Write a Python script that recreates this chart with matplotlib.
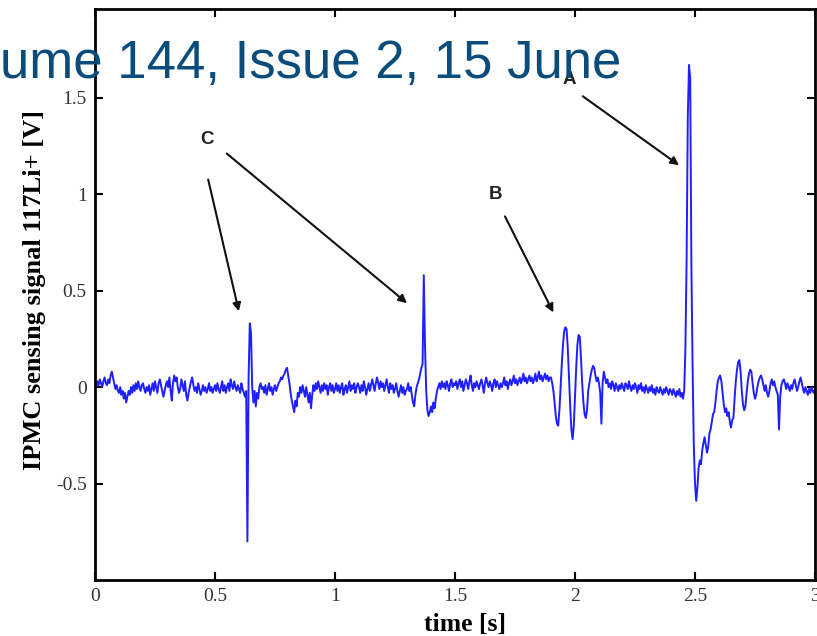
import numpy as np
import matplotlib
matplotlib.use("Agg")
import matplotlib.pyplot as plt

# ---- data (sampled every 0.005 s from 0 to 3 s) ----
t_start, t_end = 0.0, 3.0
signal = [
    # 0.0
    0.02, 0.00, 0.03, 0.01, 0.04, 0.02, 0.00, 0.03, 0.05, 0.02, 0.01, 0.04, 0.02, 0.06, 0.08, 0.05, 0.02, -0.01, 0.01, -0.02,
    # 0.1
    -0.03, 0.00, -0.04, -0.02, -0.06, -0.03, -0.08, -0.05, -0.02, -0.04, 0.00, -0.03, 0.01, -0.02, 0.02, -0.01, 0.03, 0.00, -0.02, 0.01,
    # 0.2
    0.02, -0.01, -0.03, 0.00, -0.02, 0.01, -0.04, -0.01, 0.02, -0.02, 0.03, 0.00, -0.03, 0.02, 0.04, 0.01, -0.02, -0.05, -0.02, 0.01,
    # 0.3
    0.03, 0.00, 0.05, -0.02, -0.07, 0.02, 0.06, 0.03, 0.05, 0.00, -0.03, -0.01, 0.04, 0.01, -0.02, 0.03, -0.04, -0.07, -0.03, 0.00,
    # 0.4
    0.03, 0.05, 0.01, -0.02, 0.00, -0.03, 0.02, -0.01, -0.04, -0.02, 0.01, -0.02, 0.00, -0.03, -0.01, 0.02, -0.02, 0.00, -0.03, -0.01,
    # 0.5
    0.01, -0.02, 0.02, -0.01, -0.03, 0.00, 0.03, -0.02, 0.01, -0.03, 0.00, 0.02, -0.02, 0.04, 0.01, -0.01, 0.03, 0.00, -0.02, 0.01,
    # 0.6  (C1)
    -0.01, -0.03, 0.02, -0.01, -0.03, -0.05, -0.02, -0.80, 0.05, 0.33, 0.28, 0.00, -0.08, -0.02, -0.10, -0.03, -0.06, 0.00, 0.02, -0.01,
    # 0.7
    0.00, -0.03, 0.01, -0.04, -0.01, 0.02, -0.02, 0.00, -0.04, -0.01, 0.01, -0.02, 0.00, 0.02, 0.03, 0.05, 0.04, 0.06, 0.07, 0.09,
    # 0.8
    0.10, 0.06, 0.02, -0.03, -0.07, -0.10, -0.13, -0.07, -0.10, -0.03, -0.05, 0.00, -0.03, 0.01, -0.02, -0.05, 0.00, -0.04, -0.08, -0.03,
    # 0.9
    -0.11, -0.04, 0.01, -0.02, 0.02, -0.01, 0.03, 0.00, -0.03, 0.01, -0.02, 0.02, -0.01, 0.01, -0.04, 0.00, 0.02, -0.02, 0.01, -0.03,
    # 1.0
    -0.01, 0.02, -0.02, 0.01, -0.03, 0.00, 0.02, -0.04, -0.01, 0.01, -0.03, 0.00, 0.03, -0.02, 0.01, -0.01, 0.02, -0.03, 0.00, 0.02,
    # 1.1
    0.00, -0.03, 0.01, -0.02, 0.03, 0.00, -0.04, -0.01, 0.02, -0.02, 0.01, 0.04, 0.01, -0.02, 0.02, 0.05, 0.02, -0.01, 0.03, 0.00,
    # 1.2
    0.02, -0.02, 0.01, 0.04, 0.00, -0.03, 0.02, -0.01, 0.01, -0.03, -0.01, 0.02, -0.02, -0.05, -0.02, 0.01, -0.03, 0.00, -0.04, -0.02,
    # 1.3  (C2)
    -0.01, 0.02, -0.02, 0.00, -0.04, -0.08, -0.10, -0.04, 0.00, 0.02, 0.04, 0.07, 0.10, 0.12, 0.58, 0.22, -0.02, -0.12, -0.15, -0.13,
    # 1.4
    -0.10, -0.13, -0.08, -0.11, -0.06, -0.02, 0.00, 0.02, -0.01, 0.03, 0.00, 0.02, -0.01, 0.03, 0.01, -0.02, 0.02, 0.04, 0.00, 0.02,
    # 1.5
    0.01, 0.03, -0.01, 0.02, 0.04, 0.00, 0.03, -0.02, 0.01, 0.04, 0.02, -0.01, 0.03, 0.06, 0.01, -0.02, 0.02, 0.00, 0.03, 0.01,
    # 1.6
    -0.01, 0.02, 0.04, 0.01, -0.03, 0.02, 0.05, 0.02, 0.00, 0.03, 0.01, -0.02, 0.02, 0.04, 0.00, 0.03, 0.01, -0.01, 0.02, 0.00,
    # 1.7
    0.02, 0.05, 0.01, 0.03, -0.01, 0.02, 0.04, 0.01, 0.03, 0.06, 0.02, 0.04, 0.01, 0.03, 0.05, 0.02, 0.04, 0.07, 0.03, 0.05,
    # 1.8
    0.02, 0.04, 0.06, 0.03, 0.05, 0.02, 0.04, 0.07, 0.03, 0.05, 0.08, 0.04, 0.06, 0.03, 0.05, 0.07, 0.04, 0.06, 0.03, 0.05,
    # 1.9  (B)
    0.05, 0.02, -0.02, -0.08, -0.15, -0.19, -0.20, -0.12, 0.00, 0.12, 0.22, 0.29, 0.31, 0.30, 0.20, 0.05, -0.10, -0.22, -0.27, -0.20,
    # 2.0
    -0.05, 0.10, 0.22, 0.27, 0.26, 0.15, 0.02, -0.08, -0.14, -0.16, -0.12, -0.02, 0.02, 0.06, 0.09, 0.11, 0.10, 0.06, 0.03, 0.05,
    # 2.1
    0.02, -0.03, -0.19, 0.02, 0.08, 0.05, 0.02, 0.04, 0.00, 0.02, -0.01, 0.03, 0.01, -0.02, 0.02, 0.00, -0.02, 0.01, -0.01, 0.02,
    # 2.2
    0.00, -0.02, 0.02, 0.01, -0.01, 0.03, 0.00, -0.02, 0.01, -0.01, 0.02, 0.00, -0.03, 0.01, -0.01, 0.02, -0.02, 0.00, -0.03, 0.01,
    # 2.3
    -0.01, -0.03, 0.00, -0.02, 0.01, -0.03, -0.01, -0.04, 0.00, -0.02, -0.03, 0.00, -0.02, -0.04, -0.01, -0.03, 0.00, -0.02, -0.04, -0.01,
    # 2.4  (A)
    -0.02, -0.04, -0.01, -0.03, -0.05, -0.02, -0.04, -0.01, -0.05, -0.03, -0.06, -0.02, 0.20, 0.66, 1.40, 1.67, 1.60, 0.62, 0.10, -0.30,
    # 2.5
    -0.50, -0.59, -0.52, -0.42, -0.38, -0.40, -0.33, -0.29, -0.26, -0.30, -0.34, -0.31, -0.24, -0.22, -0.18, -0.14, -0.13, -0.08, -0.02, 0.03,
    # 2.6
    0.05, 0.06, 0.03, -0.03, -0.09, -0.13, -0.11, -0.15, -0.13, -0.18, -0.21, -0.17, -0.16, -0.06, 0.03, 0.09, 0.13, 0.14, 0.08, -0.02,
    # 2.7
    -0.09, -0.12, -0.10, -0.03, 0.03, 0.07, 0.09, 0.08, 0.02, -0.03, -0.06, -0.04, 0.00, 0.03, 0.05, 0.06, 0.04, 0.01, -0.02, 0.01,
    # 2.8
    -0.03, -0.05, -0.02, 0.02, 0.04, 0.01, 0.03, 0.00, -0.02, -0.04, -0.22, -0.05, 0.01, 0.03, 0.04, 0.02, -0.01, 0.02, 0.00, -0.02,
    # 2.9
    0.01, -0.01, 0.02, 0.04, 0.01, -0.02, 0.00, 0.03, 0.05, 0.02, -0.01, -0.03, 0.00, -0.02, -0.04, -0.01, -0.03, 0.00, -0.02, -0.03,
    # 3.0
    -0.01,
]

x_ticks = [0, 0.5, 1, 1.5, 2, 2.5, 3]
x_tick_labels = ["0", "0.5", "1", "1.5", "2", "2.5", "3"]
y_ticks = [-0.5, 0, 0.5, 1, 1.5]
y_tick_labels = ["-0.5", "0", "0.5", "1", "1.5"]

labels = ["C", "B", "A"]
label_pos = [(0.465, 1.282), (1.670, 0.997), (1.978, 1.594)]
arrow_starts = [(0.469, 1.090), (0.540, 1.220), (1.703, 0.898), (2.023, 1.516)]
arrow_ends = [(0.602, 0.379), (1.309, 0.426), (1.915, 0.374), (2.443, 1.142)]

title_text = "ume 144, Issue 2, 15 June"
x_label = "time [s]"
y_label = "IPMC sensing signal 117Li+ [V]"

# ---- figure ----
fig = plt.figure(figsize=(8.17, 6.36), dpi=100)
ax = fig.add_axes([95 / 817, 1 - 580 / 636, 720 / 817, 571 / 636])

v = np.array(signal)
t = np.linspace(t_start, t_end, len(v))
ax.plot(t, v, color="#1f1fff", lw=1.4)

ax.set_xlim(0, 3)
ax.set_ylim(-1.0, 1.96)

serif = "Liberation Serif"
ax.set_xticks(x_ticks)
ax.set_xticklabels(x_tick_labels, fontfamily=serif, fontsize=14, color="#333333")
ax.set_yticks(y_ticks)
ax.set_yticklabels(y_tick_labels, fontfamily=serif, fontsize=14, color="#333333")
ax.tick_params(direction="in", length=6, width=1.5, top=True, right=True, pad=6)
for s in ax.spines.values():
    s.set_linewidth(2)

ax.set_xlabel(x_label, fontfamily=serif, fontweight="bold", fontsize=18.5)
ax.xaxis.set_label_coords(0.514, -0.058)
ax.set_ylabel(y_label, fontfamily=serif, fontweight="bold", fontsize=19)
ax.yaxis.set_label_coords(-0.068, 0.508)

for lab, (lx, ly) in zip(labels, label_pos):
    ax.text(lx, ly, lab, fontfamily="Liberation Sans", fontweight="bold", fontsize=13.5,
            ha="center", va="center", color="#222222")
for (sx, sy), (ex, ey) in zip(arrow_starts, arrow_ends):
    ax.annotate("", xy=(ex, ey), xytext=(sx, sy),
                arrowprops=dict(arrowstyle="-|>", color="#111111", lw=1.5, mutation_scale=12))

fig.text(0.0, 1 - 78 / 636, title_text, fontfamily="Liberation Sans", fontsize=38,
         color="#0a4d7c", ha="left", va="baseline", zorder=10)

fig.savefig("out.png", dpi=100)
